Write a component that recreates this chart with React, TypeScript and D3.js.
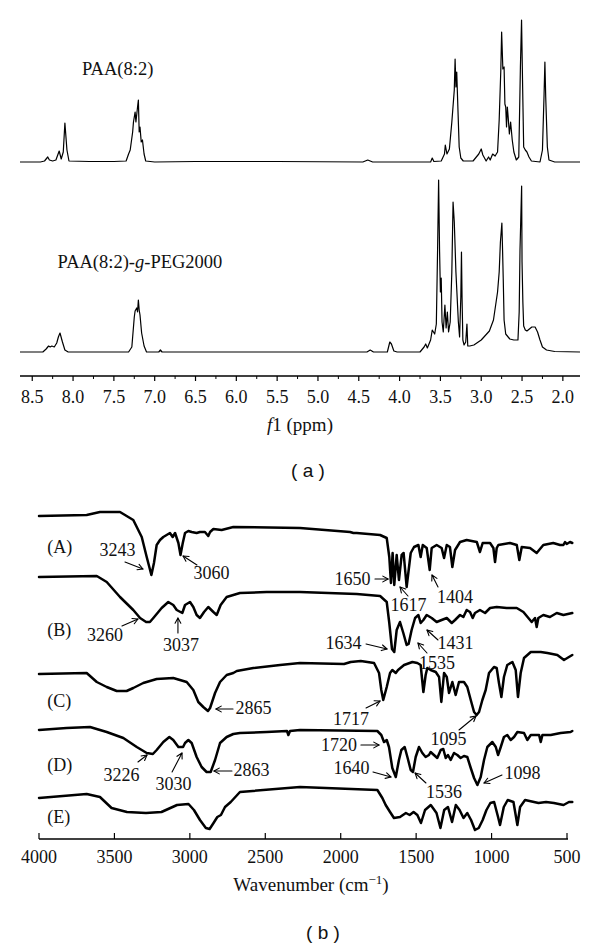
import React from "react";
import * as d3 from "d3";

const W = 600;
const H = 948;
const SERIF = "'Liberation Serif', 'Times New Roman', serif";
const SANS = "'Liberation Sans', Arial, sans-serif";

// ---------- (a) 1H NMR ----------
const NMR_TICKS = [8.5, 8.0, 7.5, 7.0, 6.5, 6.0, 5.5, 5.0, 4.5, 4.0, 3.5, 3.0, 2.5, 2.0];
const NMR_MINOR = [8.25, 7.75, 7.25, 6.75, 6.25, 5.75, 5.25, 4.75, 4.25, 3.75, 3.25, 2.75, 2.25];
const NMR_NAMES = ["PAA(8:2)", "PAA(8:2)-g-PEG2000"];
const NMR_OFFSETS = [214, 24];

// [ppm, intensity]
const NMR_PAA: number[][] = [
  [8.65, 0], [8.4, 0], [8.35, 1], [8.31, 5], [8.29, 2], [8.25, 1], [8.21, 2], [8.17, 11], [8.145, 3], [8.12, 10],
  [8.1, 39], [8.075, 12], [8.05, 1], [7.8, 0.5], [7.5, 0.5], [7.35, 1], [7.32, 8], [7.3, 12], [7.27, 30], [7.26, 40],
  [7.24, 50], [7.23, 40], [7.21, 55], [7.2, 62], [7.19, 30], [7.18, 35], [7.165, 20], [7.15, 22], [7.13, 8], [7.11, 1],
  [7.0, 0], [6.5, 0.5], [5.5, 0.5], [4.45, 0], [4.39, 2], [4.33, 0], [3.62, 0], [3.6, 4], [3.58, 0.5], [3.49, 1],
  [3.45, 8], [3.44, 17], [3.42, 8], [3.39, 13], [3.36, 40], [3.33, 72], [3.32, 103], [3.31, 75], [3.3, 90], [3.285, 52],
  [3.27, 15], [3.25, 4], [3.22, 1], [3.1, 1], [3.03, 8], [3.0, 13], [2.98, 7], [2.94, 1], [2.91, 5], [2.89, 2],
  [2.86, 8], [2.83, 6], [2.8, 10], [2.78, 42], [2.76, 92], [2.75, 130], [2.735, 93], [2.72, 95], [2.71, 58], [2.7, 55],
  [2.69, 35], [2.68, 55], [2.67, 45], [2.655, 28], [2.64, 40], [2.62, 22], [2.6, 10], [2.57, 2], [2.54, 5], [2.52, 95],
  [2.506, 142], [2.49, 62], [2.48, 15], [2.46, 12], [2.44, 10], [2.415, 5], [2.385, 1], [2.28, 0], [2.25, 12], [2.23, 68],
  [2.22, 100], [2.21, 65], [2.19, 15], [2.17, 2], [2.1, 0], [1.79, 0],
];

const NMR_PEG: number[][] = [
  [8.65, 0], [8.37, 0], [8.33, 3], [8.3, 6], [8.28, 5], [8.26, 6], [8.23, 5], [8.2, 9], [8.18, 15], [8.16, 19],
  [8.13, 10], [8.1, 2], [8.06, 0], [7.32, 0], [7.28, 5], [7.25, 35], [7.24, 41], [7.22, 44], [7.21, 40], [7.2, 52],
  [7.19, 42], [7.18, 37], [7.16, 19], [7.13, 6], [7.1, 0], [6.95, 0], [6.93, 2], [6.91, 0], [4.4, 0], [4.36, 2],
  [4.32, 0], [4.15, 0], [4.12, 10], [4.1, 8], [4.07, 1], [4.03, 0], [3.75, 0], [3.7, 5], [3.68, 8], [3.66, 4],
  [3.62, 12], [3.6, 22], [3.57, 18], [3.55, 28], [3.535, 100], [3.522, 172], [3.51, 100], [3.5, 60], [3.49, 74], [3.48, 30],
  [3.465, 20], [3.445, 47], [3.43, 24], [3.415, 40], [3.4, 20], [3.38, 30], [3.36, 80], [3.345, 150], [3.33, 130], [3.31, 80],
  [3.28, 30], [3.265, 15], [3.25, 55], [3.242, 100], [3.235, 55], [3.225, 12], [3.21, 7], [3.19, 10], [3.175, 28], [3.165, 6],
  [3.14, 6], [3.09, 7], [3.0, 12], [2.9, 21], [2.85, 32], [2.8, 60], [2.78, 80], [2.765, 110], [2.747, 129], [2.738, 100],
  [2.73, 72], [2.72, 32], [2.7, 18], [2.65, 13], [2.6, 12], [2.55, 12], [2.535, 40], [2.525, 102], [2.505, 166], [2.5, 90],
  [2.49, 50], [2.48, 26], [2.46, 22], [2.44, 21], [2.41, 23], [2.38, 25], [2.34, 25], [2.31, 20], [2.28, 12], [2.25, 5],
  [2.2, 2], [2.1, 0.5], [1.79, 0],
];

// ---------- (b) FTIR ----------
const IR_TICKS = [4000, 3500, 3000, 2500, 2000, 1500, 1000, 500];
const IR_NAMES = ["(A)", "(B)", "(C)", "(D)", "(E)"];
const IR_NAME_V = [286, 203, 132, 68, 16];
const IR_NAME_WN = 3945;

const IR_A: number[][] = [
  [4000, 323], [3684, 324], [3596, 327], [3463, 327], [3375, 319], [3319, 302], [3286, 282], [3255, 264], [3238, 276], [3220, 294],
  [3198, 299], [3176, 302], [3132, 306], [3114, 302], [3098, 306], [3076, 296], [3062, 284], [3047, 296], [3032, 306], [3010, 308],
  [2988, 307], [2955, 306], [2933, 307], [2900, 307], [2878, 303], [2866, 307], [2844, 310], [2789, 309], [2712, 312], [2270, 311],
  [1938, 307], [1916, 306], [1894, 306], [1739, 304], [1695, 301], [1678, 282], [1667, 256], [1656, 286], [1645, 254], [1629, 284],
  [1614, 259], [1596, 284], [1583, 286], [1563, 252], [1536, 286], [1514, 292], [1485, 294], [1470, 282], [1456, 294], [1430, 291],
  [1410, 269], [1397, 291], [1364, 294], [1331, 291], [1315, 281], [1297, 294], [1276, 292], [1260, 272], [1242, 289], [1209, 297],
  [1165, 299], [1098, 297], [1077, 287], [1059, 296], [1010, 296], [988, 291], [977, 277], [966, 291], [955, 294], [878, 296],
  [833, 294], [816, 279], [800, 292], [745, 291], [701, 286], [657, 294], [591, 296], [546, 294], [524, 294], [513, 297],
  [502, 295], [480, 297], [465, 296],
];

const IR_B: number[][] = [
  [4000, 262], [3617, 263], [3551, 257], [3463, 242], [3375, 229], [3330, 221], [3290, 217], [3265, 217], [3242, 221], [3187, 231],
  [3143, 237], [3110, 234], [3087, 229], [3050, 226], [3032, 234], [2999, 237], [2977, 232], [2955, 224], [2933, 221], [2906, 227],
  [2878, 232], [2844, 227], [2822, 224], [2796, 234], [2756, 242], [2668, 246], [2491, 247], [2270, 247], [1894, 245], [1739, 243],
  [1695, 237], [1678, 216], [1660, 190], [1645, 187], [1629, 209], [1607, 217], [1585, 206], [1563, 194], [1550, 195], [1530, 209],
  [1507, 221], [1485, 224], [1470, 216], [1452, 219], [1430, 224], [1397, 221], [1364, 217], [1331, 219], [1297, 221], [1264, 216],
  [1242, 219], [1209, 224], [1187, 222], [1165, 229], [1143, 227], [1125, 221], [1110, 226], [1077, 229], [1043, 226], [1010, 231],
  [966, 232], [900, 231], [833, 231], [789, 227], [756, 221], [734, 217], [712, 221], [701, 212], [690, 221], [657, 224],
  [613, 222], [568, 226], [524, 224], [465, 226],
];

const IR_C: number[][] = [
  [4000, 165], [3684, 166], [3617, 157], [3551, 152], [3485, 148], [3419, 148], [3375, 151], [3309, 156], [3220, 160], [3110, 161],
  [3021, 157], [2977, 149], [2944, 137], [2911, 132], [2880, 128], [2866, 131], [2833, 146], [2800, 157], [2756, 164], [2712, 166],
  [2689, 168], [2579, 171], [2402, 174], [2270, 176], [1978, 175], [1934, 177], [1867, 178], [1779, 176], [1746, 166], [1731, 149],
  [1718, 139], [1695, 152], [1673, 166], [1658, 169], [1635, 166], [1620, 169], [1580, 174], [1525, 177], [1492, 176], [1470, 174],
  [1452, 147], [1437, 164], [1426, 171], [1404, 169], [1370, 167], [1348, 162], [1333, 137], [1315, 166], [1297, 162], [1282, 146],
  [1260, 157], [1238, 144], [1216, 157], [1183, 157], [1161, 152], [1138, 139], [1116, 127], [1099, 124], [1083, 127], [1061, 139],
  [1039, 149], [1017, 166], [984, 172], [966, 171], [951, 156], [935, 142], [918, 162], [896, 174], [862, 177], [840, 169],
  [825, 142], [807, 166], [785, 181], [740, 187], [674, 187], [630, 186], [564, 184], [520, 179], [498, 181], [465, 184],
];

const IR_D: number[][] = [
  [4000, 109], [3817, 111], [3662, 112], [3551, 107], [3441, 101], [3352, 92], [3286, 86], [3245, 85], [3220, 89], [3176, 97],
  [3136, 102], [3110, 99], [3076, 92], [3045, 92], [3032, 96], [3010, 99], [2988, 96], [2955, 82], [2922, 72], [2889, 67],
  [2862, 67], [2833, 79], [2800, 96], [2756, 102], [2712, 105], [2668, 106], [2491, 107], [2356, 108], [2347, 104], [2336, 108],
  [2270, 109], [1757, 108], [1731, 104], [1713, 97], [1695, 99], [1680, 92], [1658, 71], [1635, 62], [1614, 79], [1598, 89],
  [1576, 92], [1558, 82], [1536, 69], [1521, 67], [1503, 82], [1481, 92], [1459, 86], [1437, 82], [1415, 84], [1404, 87],
  [1382, 84], [1360, 81], [1337, 89], [1320, 90], [1304, 81], [1289, 84], [1271, 79], [1249, 86], [1227, 84], [1205, 81],
  [1183, 83], [1161, 82], [1138, 71], [1116, 61], [1094, 54], [1072, 62], [1050, 79], [1028, 92], [995, 97], [972, 92],
  [957, 84], [939, 92], [918, 102], [896, 104], [873, 99], [851, 102], [829, 107], [785, 106], [763, 99], [740, 104],
  [685, 104], [674, 97], [663, 104], [608, 104], [542, 106], [476, 107], [465, 108],
];

const IR_E: number[][] = [
  [4000, 41], [3684, 45], [3596, 42], [3519, 31], [3417, 27], [3291, 26], [3188, 27], [3085, 34], [3009, 35], [2973, 29],
  [2933, 19], [2894, 11], [2869, 10], [2843, 16], [2818, 22], [2794, 24], [2767, 32], [2729, 37], [2668, 47], [2270, 52],
  [1757, 49], [1724, 41], [1702, 34], [1673, 27], [1647, 21], [1607, 22], [1568, 26], [1543, 24], [1517, 27], [1492, 24],
  [1468, 16], [1441, 29], [1403, 34], [1365, 26], [1339, 11], [1314, 29], [1289, 32], [1262, 17], [1237, 34], [1212, 29],
  [1186, 21], [1161, 26], [1136, 19], [1110, 9], [1085, 11], [1059, 19], [1034, 29], [1008, 36], [983, 37], [957, 22],
  [944, 14], [919, 32], [893, 39], [855, 37], [829, 14], [811, 32], [778, 39], [689, 36], [639, 37], [587, 36],
  [523, 34], [487, 37], [465, 37],
];

const IR_TRACES = [IR_A, IR_B, IR_C, IR_D, IR_E];

// annotation: text, label centre wn, label baseline v, arrow [wn1, v1, wn2, v2] (head at 2)
const IR_ANNOT: { t: string; wn: number; v: number; a: number[] }[] = [
  { t: "3243", wn: 3480, v: 283, a: [3430, 277, 3311, 270] },
  { t: "3060", wn: 2857, v: 260, a: [2953, 274, 3045, 283] },
  { t: "3260", wn: 3562, v: 198, a: [3450, 213, 3344, 220] },
  { t: "3037", wn: 3059, v: 188, a: [3079, 206, 3079, 221] },
  { t: "1650", wn: 1922, v: 254, a: [1773, 260, 1686, 260] },
  { t: "1617", wn: 1551, v: 228, a: [1554, 243, 1607, 252] },
  { t: "1404", wn: 1242, v: 236, a: [1355, 252, 1395, 264] },
  { t: "1634", wn: 1981, v: 190, a: [1832, 195, 1693, 190] },
  { t: "1431", wn: 1239, v: 190, a: [1355, 199, 1428, 209] },
  { t: "1535", wn: 1362, v: 170, a: [1428, 186, 1488, 196] },
  { t: "1717", wn: 1932, v: 114, a: [1832, 131, 1739, 138] },
  { t: "2865", wn: 2578, v: 125, a: [2714, 130, 2827, 130] },
  { t: "1095", wn: 1285, v: 94, a: [1216, 109, 1103, 123] },
  { t: "1720", wn: 2011, v: 88, a: [1866, 94, 1746, 94] },
  { t: "3226", wn: 3453, v: 58, a: [3344, 77, 3284, 84] },
  { t: "3030", wn: 3108, v: 49, a: [3118, 67, 3052, 86] },
  { t: "2863", wn: 2591, v: 63, a: [2721, 68, 2840, 68] },
  { t: "1640", wn: 1928, v: 65, a: [1786, 67, 1667, 62] },
  { t: "1536", wn: 1315, v: 41, a: [1435, 56, 1507, 66] },
  { t: "1098", wn: 795, v: 60, a: [931, 64, 1050, 56] },
];

function Arrow({ x1, y1, x2, y2 }: { x1: number; y1: number; x2: number; y2: number }) {
  const ang = Math.atan2(y2 - y1, x2 - x1);
  const L = 6;
  const s = 0.5;
  const p1 = [x2 - L * Math.cos(ang - s), y2 - L * Math.sin(ang - s)];
  const p2 = [x2 - L * Math.cos(ang + s), y2 - L * Math.sin(ang + s)];
  return (
    <g stroke="#000" strokeWidth={1.1} fill="none" strokeLinecap="round" strokeLinejoin="round">
      <line x1={x1} y1={y1} x2={x2} y2={y2} />
      <polyline points={`${p1[0]},${p1[1]} ${x2},${y2} ${p2[0]},${p2[1]}`} />
    </g>
  );
}

export default function App() {
  // NMR scales
  const xN = d3.scaleLinear().domain([8.65, 1.79]).range([20, 580]);
  const yN = d3.scaleLinear().domain([0, 360]).range([376, 16]);
  const nmrAxisY = yN(0);
  const nmrLine = (off: number) =>
    d3
      .line<number[]>()
      .x((d) => xN(d[0]))
      .y((d) => yN(d[1] + off))
      .curve(d3.curveLinear);

  // IR scales
  const xI = d3.scaleLinear().domain([4000, 500]).range([39, 567]);
  const yI = d3.scaleLinear().domain([0, 340]).range([839, 499]);
  const irAxisY = yI(0);
  const irLine = d3
    .line<number[]>()
    .x((d) => xI(d[0]))
    .y((d) => yI(d[1]))
    .curve(d3.curveLinear);

  const fmt = d3.format(".1f");

  return (
    <svg
      width={W}
      height={H}
      viewBox={`0 0 ${W} ${H}`}
      style={{ position: "absolute", left: 0, top: 0, background: "#fff" }}
    >
      <rect x={0} y={0} width={W} height={H} fill="#fff" />

      {/* ---------- (a) ---------- */}
      <path d={nmrLine(NMR_OFFSETS[0])(NMR_PAA) || ""} fill="none" stroke="#000" strokeWidth={1.2} strokeLinejoin="round" />
      <path d={nmrLine(NMR_OFFSETS[1])(NMR_PEG) || ""} fill="none" stroke="#000" strokeWidth={1.2} strokeLinejoin="round" />

      <text x={xN(7.89)} y={yN(301)} fontFamily={SERIF} fontSize={18.5} fill="#111">
        {NMR_NAMES[0]}
      </text>
      <text x={xN(8.19)} y={yN(108)} fontFamily={SERIF} fontSize={18.5} fill="#111">
        PAA(8:2)-<tspan fontStyle="italic">g</tspan>-PEG2000
      </text>

      <line x1={xN.range()[0]} x2={xN.range()[1]} y1={nmrAxisY} y2={nmrAxisY} stroke="#000" strokeWidth={1.4} />
      {NMR_TICKS.map((t) => (
        <g key={"nt" + t}>
          <line x1={xN(t)} x2={xN(t)} y1={nmrAxisY} y2={nmrAxisY + 5} stroke="#000" strokeWidth={1.2} />
          <text x={xN(t)} y={nmrAxisY + 27} textAnchor="middle" fontFamily={SERIF} fontSize={18} fill="#111">
            {fmt(t)}
          </text>
        </g>
      ))}
      {NMR_MINOR.map((t) => (
        <line key={"nm" + t} x1={xN(t)} x2={xN(t)} y1={nmrAxisY} y2={nmrAxisY + 3} stroke="#000" strokeWidth={1} />
      ))}
      <text x={300} y={431} textAnchor="middle" fontFamily={SERIF} fontSize={19} fill="#111">
        <tspan fontStyle="italic">f</tspan>1 (ppm)
      </text>
      <text x={308} y={477} textAnchor="middle" fontFamily={SANS} fontSize={19} fill="#111">
        ( a )
      </text>

      {/* ---------- (b) ---------- */}
      {IR_TRACES.map((tr, i) => (
        <path key={"ir" + i} d={irLine(tr) || ""} fill="none" stroke="#000" strokeWidth={2.5} strokeLinejoin="round" strokeLinecap="round" />
      ))}
      {IR_NAMES.map((n, i) => (
        <text key={n} x={xI(IR_NAME_WN)} y={yI(IR_NAME_V[i])} fontFamily={SERIF} fontSize={18} fill="#111">
          {n}
        </text>
      ))}
      {IR_ANNOT.map((a) => (
        <g key={a.t}>
          <text x={xI(a.wn)} y={yI(a.v)} textAnchor="middle" fontFamily={SERIF} fontSize={18} fill="#111">
            {a.t}
          </text>
          <Arrow x1={xI(a.a[0])} y1={yI(a.a[1])} x2={xI(a.a[2])} y2={yI(a.a[3])} />
        </g>
      ))}

      <line x1={xI(4000)} x2={xI(500) + 1} y1={irAxisY} y2={irAxisY} stroke="#000" strokeWidth={1.4} />
      {IR_TICKS.map((t) => (
        <g key={"it" + t}>
          <line x1={xI(t)} x2={xI(t)} y1={irAxisY} y2={irAxisY - 6} stroke="#000" strokeWidth={1.2} />
          <text x={xI(t)} y={irAxisY + 24} textAnchor="middle" fontFamily={SERIF} fontSize={18} fill="#111">
            {t}
          </text>
        </g>
      ))}
      <text x={311} y={891} textAnchor="middle" fontFamily={SERIF} fontSize={19} fill="#111">
        Wavenumber (cm
        <tspan fontSize={13} dy={-7}>−1</tspan>
        <tspan dy={7}>)</tspan>
      </text>
      <text x={323} y={939} textAnchor="middle" fontFamily={SANS} fontSize={19} fill="#111">
        ( b )
      </text>
    </svg>
  );
}
